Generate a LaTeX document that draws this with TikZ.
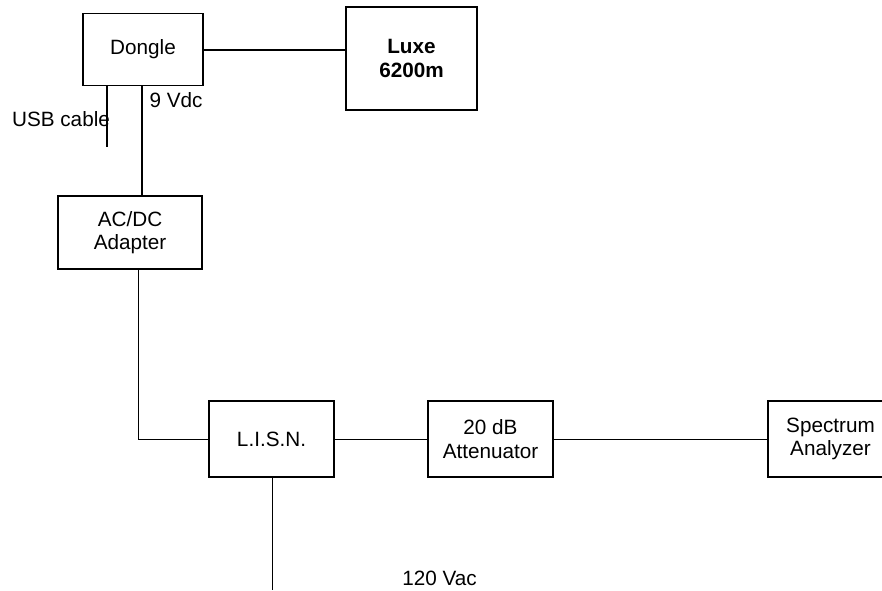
\documentclass[tikz,border=0pt]{standalone}
\usepackage{fontspec}
\setmainfont{Liberation Sans}
\begin{document}
\begin{tikzpicture}[x=1pt,y=-1pt,
  box/.style={draw, line width=1.1pt, inner sep=0pt, align=center,
    font=\fontsize{20.7}{23.5}\selectfont},
  thick wire/.style={line width=2pt},
  thin wire/.style={line width=1pt},
  lbl/.style={inner sep=0pt, anchor=base, font=\fontsize{20.7}{23.5}\selectfont}]
\useasboundingbox (0,0) rectangle (882,590);
\node[box, minimum width=120pt, minimum height=72pt] (dongle) at (143,49.5) {Dongle};
\node[box, minimum width=131pt, minimum height=103pt] (luxe) at (411.5,58.5) {\bfseries Luxe\\\bfseries 6200m};
\node[box, minimum width=144pt, minimum height=73pt] (acdc) at (130,232.5) {AC/DC\\Adapter};
\node[box, minimum width=125pt, minimum height=76pt] (lisn) at (271.5,439) {L.I.S.N.};
\node[box, minimum width=125pt, minimum height=76pt] (atten) at (490.5,439) {20 dB\\Attenuator};
\node[box, minimum width=125pt, minimum height=76pt] (spec) at (830.5,439) {Spectrum\\Analyzer};
\coordinate (usbend) at (107,147);
\coordinate (acend) at (272,590);
\node[lbl] (usb) at (61,126) {USB cable};
\node[lbl] (vdc) at (176,107) {9 Vdc};
\node[lbl] (vac) at (439.5,585.5) {120 Vac};
\draw[thick wire] (dongle.east) -- (luxe.west |- dongle.east);
\draw[thick wire] (dongle.south -| usbend) -- (usbend);
\draw[thick wire] ([xshift=-1pt]dongle.south) -- ([xshift=-1pt]dongle.south |- acdc.north);
\draw[thin wire] ([xshift=8pt]acdc.south) |- (lisn.west);
\draw[thin wire] (lisn.east) -- (atten.west);
\draw[thin wire] (atten.east) -- (spec.west);
\draw[thin wire] (lisn.south -| acend) -- (acend);
\end{tikzpicture}
\end{document}
